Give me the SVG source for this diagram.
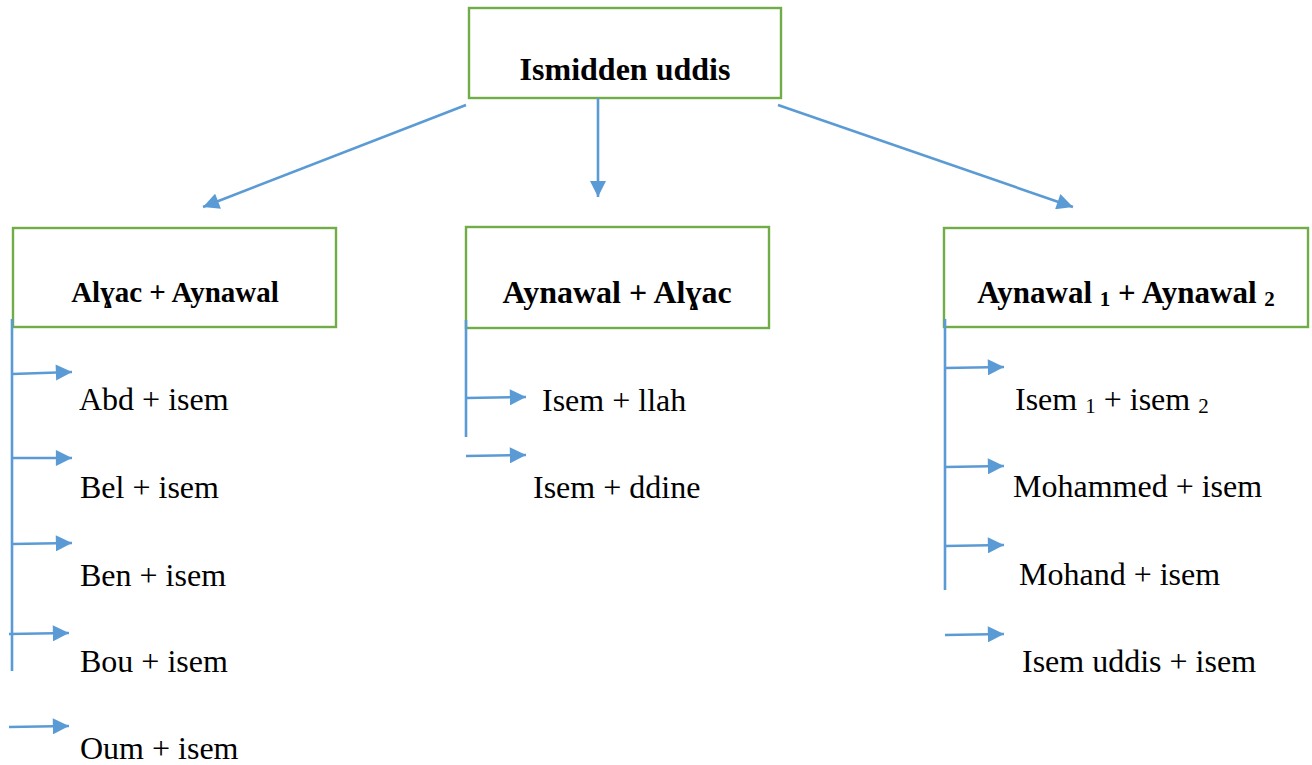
<svg xmlns="http://www.w3.org/2000/svg" width="1312" height="765" viewBox="0 0 1312 765">
<defs>
<marker id="ah" viewBox="0 0 10 10" refX="10" refY="5" markerWidth="6.5" markerHeight="6.2" orient="auto" markerUnits="strokeWidth">
<path d="M0,0 L10,5 L0,10 z" fill="#5B9BD5"/>
</marker>
</defs>
<style>
.box{fill:#fff;stroke:#70AD47;stroke-width:2.4}
.hd{font-family:'Liberation Serif','DejaVu Serif',serif;font-weight:bold;fill:#000;text-anchor:middle}
.it{font-family:'Liberation Serif','DejaVu Serif',serif;font-size:32px;fill:#000}
.c{stroke:#5B9BD5;stroke-width:2.6;fill:none}
.a{stroke:#5B9BD5;stroke-width:2.6;fill:none;marker-end:url(#ah)}
</style>
<rect width="1312" height="765" fill="#fff"/>
<g id="root">
<rect class="box" x="469" y="8" width="312" height="90"/>
<text class="hd" x="625" y="80" font-size="32">Ismidden uddis</text>
</g>
<g id="n-left">
<rect class="box" x="13" y="228" width="323" height="99"/>
<text class="hd" x="175" y="302" font-size="29">Alɣac + Aynawal</text>
</g>
<g id="n-mid">
<rect class="box" x="466" y="227" width="303" height="101"/>
<text class="hd" x="617" y="303" font-size="32">Aynawal + Alɣac</text>
</g>
<g id="n-right">
<rect class="box" x="944" y="228" width="364" height="99"/>
<text class="hd" x="1126" y="303" font-size="31">Aynawal <tspan font-size="21" dy="3">1</tspan><tspan dy="-3"> + Aynawal </tspan><tspan font-size="21" dy="3">2</tspan></text>
</g>
<g id="items-left">
<text class="it" x="79" y="410">Abd + isem</text>
<text class="it" x="80" y="498">Bel + isem</text>
<text class="it" x="80" y="586">Ben + isem</text>
<text class="it" x="80" y="672">Bou + isem</text>
<text class="it" x="80" y="759">Oum + isem</text>
</g>
<g id="items-mid">
<text class="it" x="542" y="411">Isem + llah</text>
<text class="it" x="533" y="498">Isem + ddine</text>
</g>
<g id="items-right">
<text class="it" x="1015" y="410">Isem <tspan font-size="21" dy="3">1</tspan><tspan dy="-3"> + isem </tspan><tspan font-size="21" dy="3">2</tspan></text>
<text class="it" x="1013" y="497">Mohammed + isem</text>
<text class="it" x="1019" y="585">Mohand + isem</text>
<text class="it" x="1022" y="672">Isem uddis + isem</text>
</g>
<g id="connectors">
<line class="a" x1="466" y1="105" x2="203" y2="207"/>
<line class="a" x1="598" y1="98" x2="598" y2="197"/>
<line class="a" x1="778" y1="105" x2="1073" y2="207"/>
<line class="c" x1="12" y1="319" x2="12" y2="671"/>
<line class="a" x1="12" y1="374" x2="72" y2="372"/>
<line class="a" x1="12" y1="458" x2="72" y2="458"/>
<line class="a" x1="12" y1="544" x2="72" y2="543"/>
<line class="a" x1="9" y1="634" x2="69" y2="633"/>
<line class="a" x1="9" y1="727" x2="69" y2="726"/>
<line class="c" x1="466" y1="320" x2="466" y2="437"/>
<line class="a" x1="466" y1="398" x2="526" y2="397"/>
<line class="a" x1="466" y1="456" x2="526" y2="455"/>
<line class="c" x1="945" y1="319" x2="945" y2="590"/>
<line class="a" x1="945" y1="368" x2="1004" y2="367"/>
<line class="a" x1="945" y1="467" x2="1004" y2="466"/>
<line class="a" x1="945" y1="546" x2="1004" y2="545"/>
<line class="a" x1="945" y1="635" x2="1004" y2="634"/>
</g>
</svg>
